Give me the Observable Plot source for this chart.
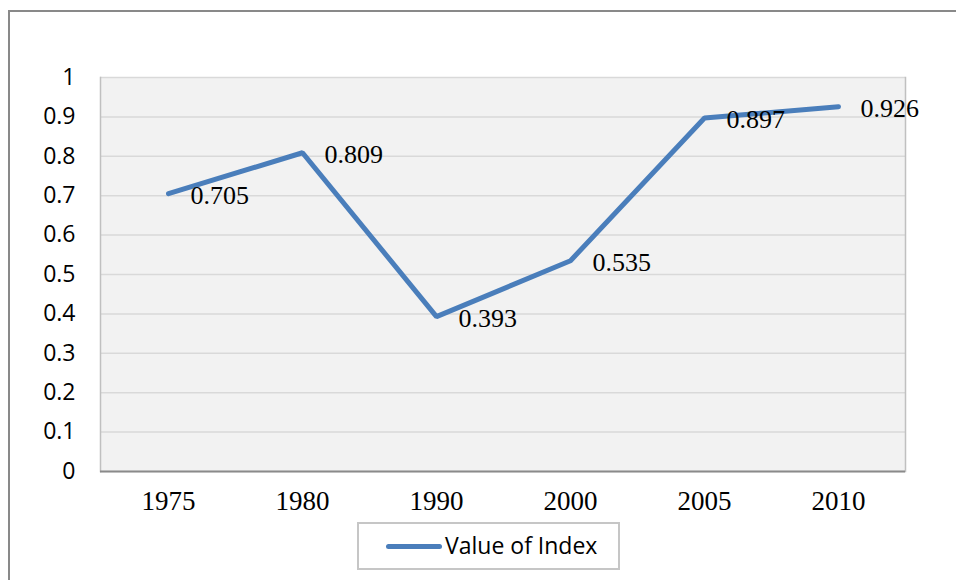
<!DOCTYPE html>
<html>
<head>
<meta charset="utf-8">
<script src="https://cdn.jsdelivr.net/npm/d3@7"></script>
<script src="https://cdn.jsdelivr.net/npm/@observablehq/plot@0.6"></script>
<style>
  html, body { margin: 0; padding: 0; background: #fff; }
  #wrap { position: relative; width: 956px; height: 580px; overflow: hidden; }
  #border { position: absolute; left: 8px; top: 10px; width: 1000px; height: 1000px;
            border-left: 2px solid #898989; border-top: 2px solid #898989; box-sizing: border-box; }
  #chart { position: absolute; left: 0; top: 0; }
  #legend { position: absolute; left: 357px; top: 522px; width: 263px; height: 48px;
            border: 2px solid #c6c6c6; box-sizing: border-box; background: #fff;
            font-family: "Open Sans", sans-serif; font-size: 23px; color: #000; }
  #legend .sw { position: absolute; left: 27px; top: 20px; width: 56px; height: 5px; background: #4a7ebb; border-radius: 3px; }
  #legend .lab { position: absolute; left: 86px; top: 5px; white-space: nowrap; }
</style>
</head>
<body>
<div id="wrap">
  <div id="border"></div>
  <div id="chart"></div>
  <div id="legend"><div class="sw"></div><div class="lab">Value of Index</div></div>
</div>
<script>
const years = ["1975", "1980", "1990", "2000", "2005", "2010"];
const values = [0.705, 0.809, 0.393, 0.535, 0.897, 0.926];
const yTicks = [0, 0.1, 0.2, 0.3, 0.4, 0.5, 0.6, 0.7, 0.8, 0.9, 1];
const seriesName = "Value of Index";

const data = years.map((y, i) => ({year: y, value: values[i]}));

const chart = Plot.plot({
  width: 956,
  height: 515,
  marginLeft: 100,
  marginRight: 51,
  marginTop: 77,
  marginBottom: 44,
  style: {background: "transparent", overflow: "visible"},
  x: {type: "point", domain: years, padding: 0.5, label: null},
  y: {domain: [0, 1], label: null},
  marks: [
    Plot.frame({fill: "#f2f2f2", stroke: null}),
    Plot.gridY(yTicks, {stroke: "#d9d9d9", strokeOpacity: 1, strokeWidth: 1.5}),
    Plot.frame({anchor: "left", stroke: "#c0c0c0", strokeWidth: 1.5}),
    Plot.frame({anchor: "right", stroke: "#c0c0c0", strokeWidth: 1.5}),
    Plot.ruleY([0], {stroke: "#8a8a8a", strokeWidth: 2}),
    Plot.axisY({ticks: yTicks, tickSize: 0, tickPadding: 25, tickFormat: d => String(+d.toFixed(1)),
      fontSize: 23, fontFamily: "Open Sans", fill: "#000"}),
    Plot.axisX({tickSize: 0, tickPadding: 19, fontSize: 27, fontFamily: "Liberation Serif", fill: "#000"}),
    Plot.line(data, {x: "year", y: "value", stroke: "#4a7ebb", strokeWidth: 5, strokeLinecap: "round", strokeLinejoin: "miter"}),
    Plot.text(data, {x: "year", y: "value", text: d => d.value.toFixed(3), textAnchor: "start", dx: 22, dy: 2,
      fontSize: 26, fontFamily: "Liberation Serif", fill: "#000"})
  ]
});
document.getElementById("chart").appendChild(chart);
</script>
</body>
</html>
